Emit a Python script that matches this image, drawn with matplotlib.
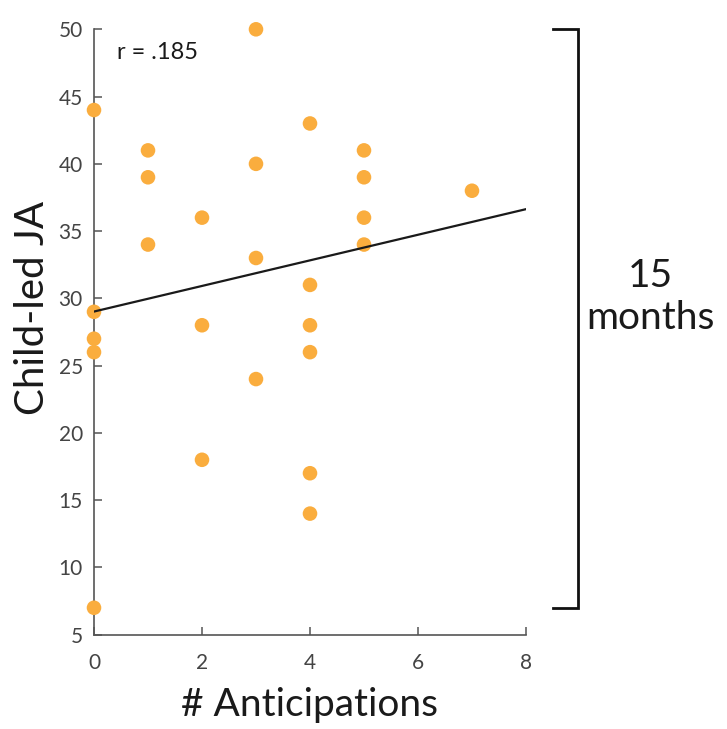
import numpy as np
import matplotlib
matplotlib.use("Agg")
import matplotlib.pyplot as plt
import matplotlib.transforms as mtransforms

plt.rcParams['font.family'] = ['Lato', 'DejaVu Sans']

# Data
anticipations = [0, 0, 0, 0, 0, 1, 1, 1, 2, 2, 2, 3, 3, 3, 3,
                 4, 4, 4, 4, 4, 4, 5, 5, 5, 5, 7]
child_led_ja = [44, 29, 27, 26, 7, 41, 39, 34, 36, 28, 18, 50, 40, 33, 24,
                43, 31, 28, 26, 17, 14, 41, 39, 36, 34, 38]
x_ticks = [0, 2, 4, 6, 8]
y_ticks = [5, 10, 15, 20, 25, 30, 35, 40, 45, 50]
r_label = "r = .185"
bracket_label = "15\nmonths"

x = np.array(anticipations, dtype=float)
y = np.array(child_led_ja, dtype=float)

fig = plt.figure(figsize=(7.27, 7.29), dpi=100)
ax = fig.add_axes([0.1293, 0.1294, 0.7235 - 0.1293, 0.9598 - 0.1294])

ax.scatter(x, y, s=110, color='#FAAD3E', edgecolors='none', zorder=3, clip_on=False)

slope, intercept = np.polyfit(x, y, 1)
xl = np.array([0, 8])
ax.plot(xl, slope * xl + intercept, color='#1a1a1a', lw=1.6, zorder=4)

ax.set_xlim(0, 8)
ax.set_ylim(5, 50)
ax.set_xticks(x_ticks)
ax.set_yticks(y_ticks)

for s in ['top', 'right']:
    ax.spines[s].set_visible(False)
for s in ['left', 'bottom']:
    ax.spines[s].set_color('#555555')
    ax.spines[s].set_linewidth(1.2)
ax.tick_params(direction='in', length=6, width=1.1, colors='#555555',
               labelsize=15, labelcolor='#444444', pad=8)
ax.tick_params(axis='x', pad=13)

ax.set_xlabel('# Anticipations', fontsize=28, color='#1a1a1a', labelpad=10)
ax.set_ylabel('Child-led JA', fontsize=29, color='#1a1a1a')
ax.yaxis.set_label_coords(-0.100, 0.54)

ax.text(0.054, 0.9615, r_label, transform=ax.transAxes, fontsize=17,
        color='#1a1a1a', va='center', ha='left')

# Bracket spanning the data range
trans = mtransforms.blended_transform_factory(ax.transAxes, ax.transData)
ymin, ymax = y.min(), y.max()
bx0, bx1 = 1.0625, 1.120
ax.plot([bx0, bx1, bx1, bx0], [ymax, ymax, ymin, ymin], transform=trans,
        color='#111111', lw=2.0, clip_on=False, solid_joinstyle='miter')
ax.text(1.287, 0.558, bracket_label, transform=ax.transAxes, fontsize=28,
        color='#1a1a1a', ha='center', va='center', linespacing=1.2)

fig.savefig('out.png', dpi=100)
